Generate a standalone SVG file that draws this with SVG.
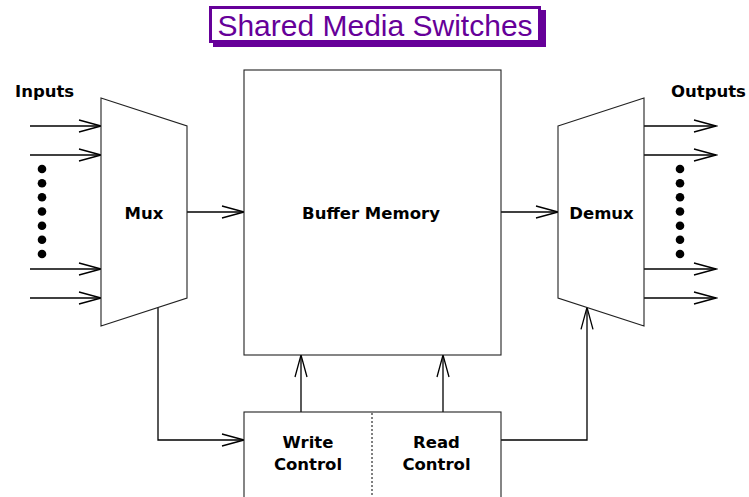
<svg xmlns="http://www.w3.org/2000/svg" width="749" height="497" viewBox="0 0 749 497">
  <defs>
    <style>
      .line { fill: none; stroke: #000; stroke-width: 1.3; }
      .box { fill: #fff; stroke: #222; stroke-width: 1.1; }
      .lbl { font-family: "DejaVu Sans", "Liberation Sans", sans-serif; font-weight: bold; font-size: 16.5px; fill: #000; }
      .mid { text-anchor: middle; }
      .dot { fill: #000; }
      .title { font-family: "Liberation Sans", "DejaVu Sans", sans-serif; font-size: 30px; fill: #660099; }
    </style>
    <marker id="open" viewBox="-24 -8 26 16" markerWidth="26" markerHeight="16" refX="0" refY="0" markerUnits="userSpaceOnUse" orient="auto">
      <path d="M-22,-6 L0,0 L-22,6" fill="none" stroke="#000" stroke-width="1.3"/>
    </marker>
  </defs>

  <rect width="749" height="497" fill="#fff"/>

  <!-- title banner with drop shadow -->
  <g id="title">
    <rect x="213" y="10" width="333" height="37" fill="#660099"/>
    <rect x="210.5" y="7.5" width="329" height="34" fill="#fff" stroke="#660099" stroke-width="3"/>
    <text class="title" x="375" y="36" text-anchor="middle">Shared Media Switches</text>
  </g>

  <!-- connectors -->
  <g id="connectors">
    <!-- inputs into the mux -->
    <path class="line" d="M30,126 H101" marker-end="url(#open)"/>
    <path class="line" d="M30,155 H101" marker-end="url(#open)"/>
    <path class="line" d="M30,269 H101" marker-end="url(#open)"/>
    <path class="line" d="M30,298 H101" marker-end="url(#open)"/>
    <!-- mux to buffer, buffer to demux -->
    <path class="line" d="M187,212 H244" marker-end="url(#open)"/>
    <path class="line" d="M501,212 H558" marker-end="url(#open)"/>
    <!-- demux outputs -->
    <path class="line" d="M644,126 H716" marker-end="url(#open)"/>
    <path class="line" d="M644,155 H716" marker-end="url(#open)"/>
    <path class="line" d="M644,269 H716" marker-end="url(#open)"/>
    <path class="line" d="M644,298 H716" marker-end="url(#open)"/>
    <!-- control paths -->
    <path class="line" d="M158,307.4 V440 H244" marker-end="url(#open)"/>
    <path class="line" d="M501,440 H587 V307.4" marker-end="url(#open)"/>
    <path class="line" d="M301,412 V355" marker-end="url(#open)"/>
    <path class="line" d="M443,412 V355" marker-end="url(#open)"/>
  </g>

  <g id="inputs-label">
    <text class="lbl" x="15" y="97">Inputs</text>
  </g>
  <g id="outputs-label">
    <text class="lbl" x="671" y="97">Outputs</text>
  </g>

  <g id="input-dots">
    <circle class="dot" cx="42" cy="169" r="4.3"/>
    <circle class="dot" cx="42" cy="183.2" r="4.3"/>
    <circle class="dot" cx="42" cy="197.3" r="4.3"/>
    <circle class="dot" cx="42" cy="211.5" r="4.3"/>
    <circle class="dot" cx="42" cy="225.7" r="4.3"/>
    <circle class="dot" cx="42" cy="239.8" r="4.3"/>
    <circle class="dot" cx="42" cy="254" r="4.3"/>
  </g>
  <g id="output-dots">
    <circle class="dot" cx="680" cy="169" r="4.3"/>
    <circle class="dot" cx="680" cy="183.2" r="4.3"/>
    <circle class="dot" cx="680" cy="197.3" r="4.3"/>
    <circle class="dot" cx="680" cy="211.5" r="4.3"/>
    <circle class="dot" cx="680" cy="225.7" r="4.3"/>
    <circle class="dot" cx="680" cy="239.8" r="4.3"/>
    <circle class="dot" cx="680" cy="254" r="4.3"/>
  </g>

  <g id="mux">
    <polygon class="box" points="101,98 187,126 187,298 101,326"/>
    <text class="lbl mid" x="144" y="219">Mux</text>
  </g>

  <g id="buffer-memory">
    <rect class="box" x="244" y="70" width="257" height="285"/>
    <text class="lbl mid" x="371" y="219">Buffer Memory</text>
  </g>

  <g id="demux">
    <polygon class="box" points="558,126 644,98 644,326 558,298"/>
    <text class="lbl mid" x="601.5" y="219">Demux</text>
  </g>

  <g id="control">
    <rect class="box" x="244" y="412" width="257" height="100"/>
    <line x1="372" y1="413" x2="372" y2="497" stroke="#000" stroke-width="1" stroke-dasharray="2,2"/>
    <text class="lbl mid" x="308" y="448">Write</text>
    <text class="lbl mid" x="308" y="470">Control</text>
    <text class="lbl mid" x="436.5" y="448">Read</text>
    <text class="lbl mid" x="436.5" y="470">Control</text>
  </g>
</svg>
